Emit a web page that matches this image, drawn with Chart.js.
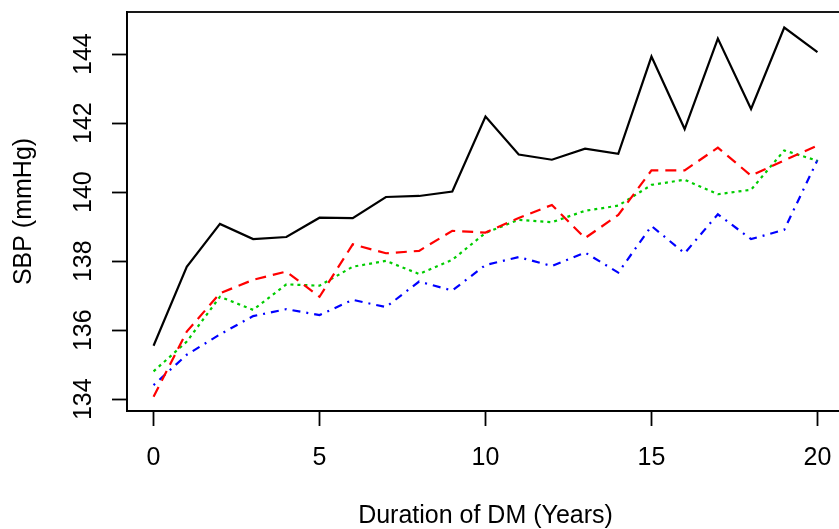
<!DOCTYPE html>
<html>
<head>
<meta charset="utf-8">
<script src="https://cdn.jsdelivr.net/npm/chart.js@4"></script>
<style>
  html, body { margin: 0; padding: 0; background: #fff; overflow: hidden; }
  #wrap { width: 839px; height: 529px; overflow: hidden; }
</style>
</head>
<body>
<div id="wrap"><canvas id="sbp-chart" width="900" height="529"></canvas></div>
<script>
// duration of DM, years
var years = [0, 1, 2, 3, 4, 5, 6, 7, 8, 9, 10, 11, 12, 13, 14, 15, 16, 17, 18, 19, 20];

// mean SBP (mmHg) for the four groups
var blackSeries = [135.55, 137.84, 139.08, 138.64, 138.70, 139.26, 139.25, 139.86, 139.89, 140.02,
  142.19, 141.09, 140.94, 141.26, 141.11, 143.93, 141.83, 144.45, 142.41, 144.77, 144.06];
var redSeries = [134.07, 135.96, 137.07, 137.46, 137.70, 136.97, 138.49, 138.23, 138.30, 138.88,
  138.83, 139.25, 139.63, 138.67, 139.34, 140.63, 140.63, 141.29, 140.48, 140.92, 141.35];
var greenSeries = [134.81, 135.67, 136.97, 136.59, 137.33, 137.29, 137.84, 138.01, 137.63, 138.04,
  138.82, 139.20, 139.13, 139.46, 139.61, 140.21, 140.36, 139.94, 140.07, 141.21, 140.91];
var blueSeries = [134.41, 135.29, 135.88, 136.41, 136.61, 136.44, 136.88, 136.67, 137.41, 137.15,
  137.89, 138.12, 137.86, 138.25, 137.67, 139.02, 138.23, 139.36, 138.64, 138.91, 140.93];

var xTicks = [0, 5, 10, 15, 20];
var yTicks = [134, 136, 138, 140, 142, 144];

function toPoints(values) {
  return years.map(function(x, i) { return { x: x, y: values[i] }; });
}

function lineSet(values, color, dash) {
  return {
    data: toPoints(values),
    borderColor: color,
    borderWidth: 2.2,
    borderDash: dash,
    pointRadius: 0,
    tension: 0,
    fill: false
  };
}

var fontFamily = '"Liberation Sans", Arial, sans-serif';
var font = { family: fontFamily, size: 25, lineHeight: 1 };

// R-style box plus tick labels (x under the axis, y turned 90 degrees)
var boxPlugin = {
  id: 'box',
  afterDraw: function(chart) {
    var a = chart.chartArea;
    var ctx = chart.ctx;
    var xs = chart.scales.x;
    var ys = chart.scales.y;
    ctx.save();
    ctx.strokeStyle = '#000';
    ctx.lineWidth = 1.8;
    ctx.strokeRect(a.left, a.top, a.right - a.left, a.bottom - a.top);

    ctx.fillStyle = '#000';
    ctx.font = '25px ' + fontFamily;
    ctx.textAlign = 'center';
    ctx.textBaseline = 'middle';
    xs.ticks.forEach(function(t) {
      ctx.fillText(String(t.value), xs.getPixelForValue(t.value), a.bottom + 47);
    });
    ys.ticks.forEach(function(t) {
      ctx.save();
      ctx.translate(a.left - 43, ys.getPixelForValue(t.value));
      ctx.rotate(-Math.PI / 2);
      ctx.fillText(String(t.value), 0, 0);
      ctx.restore();
    });
    ctx.restore();
  }
};

var ctx = document.getElementById('sbp-chart').getContext('2d');
new Chart(ctx, {
  type: 'line',
  data: {
    datasets: [
      lineSet(blackSeries, '#000000', []),
      lineSet(redSeries, '#ff0000', [11, 7]),
      lineSet(greenSeries, '#00cc00', [3, 4]),
      lineSet(blueSeries, '#0000ff', [2, 6, 8, 6])
    ]
  },
  options: {
    responsive: false,
    animation: false,
    devicePixelRatio: 1,
    layout: { padding: { left: 0, top: 12, right: 56, bottom: 0 } },
    plugins: { legend: { display: false }, tooltip: { enabled: false } },
    scales: {
      x: {
        type: 'linear',
        min: -0.8,
        max: 20.8,
        afterBuildTicks: function(scale) {
          scale.ticks = xTicks.map(function(v) { return { value: v }; });
        },
        afterFit: function(scale) { scale.height = 118; },
        grid: { drawOnChartArea: false, drawTicks: true, tickLength: 15, tickWidth: 1.8, tickColor: '#000' },
        border: { display: true, color: '#000', width: 1.8 },
        ticks: { display: false },
        title: { display: true, text: 'Duration of DM (Years)', color: '#000', font: font, padding: 0 }
      },
      y: {
        type: 'linear',
        min: 133.66,
        max: 145.22,
        afterBuildTicks: function(scale) {
          scale.ticks = yTicks.map(function(v) { return { value: v }; });
        },
        afterFit: function(scale) { scale.width = 127; },
        grid: { drawOnChartArea: false, drawTicks: true, tickLength: 15, tickWidth: 1.8, tickColor: '#000' },
        border: { display: true, color: '#000', width: 1.8 },
        ticks: { display: false },
        title: { display: true, text: 'SBP (mmHg)', color: '#000', font: font, padding: { top: 12, bottom: 0 } }
      }
    }
  },
  plugins: [boxPlugin]
});
</script>
</body>
</html>
